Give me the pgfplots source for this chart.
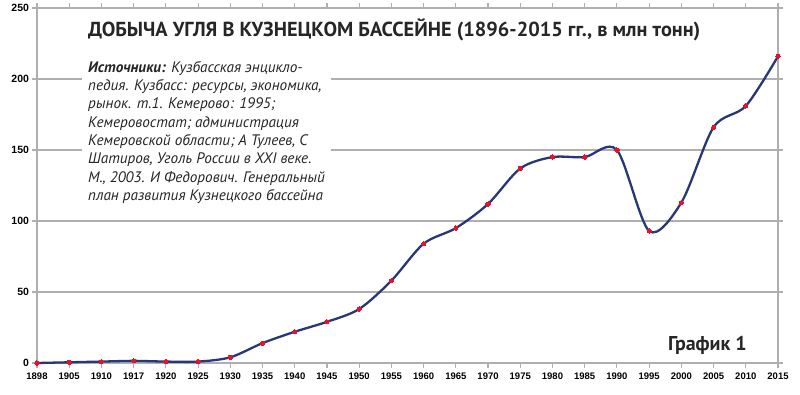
\documentclass[border=0pt]{standalone}
\usepackage{pgfplots}
\pgfplotsset{compat=1.18}
\usepackage{fontspec}
\setmainfont{PT Sans}
\newfontfamily\tickfont{Liberation Sans}
\definecolor{curveblue}{RGB}{40,55,120}
\definecolor{dotred}{RGB}{228,18,45}
\definecolor{gridc}{RGB}{175,175,175}
\begin{document}
\begin{tikzpicture}[x=1pt,y=1pt]
\path[use as bounding box] (0,0) rectangle (800,394);
\begin{axis}[
  at={(37pt,31pt)}, anchor=south west,
  scale only axis, width=741pt, height=355pt,
  xmin=0, xmax=23, ymin=0, ymax=250,
  xtick={0,...,23},
  xticklabels={1898,1905,1910,1917,1920,1925,1930,1935,1940,1945,1950,1955,1960,1965,1970,1975,1980,1985,1990,1995,2000,2005,2010,2015},
  ytick={0,50,...,250},
  ymajorgrids,
  grid style={gridc, line width=1.1pt},
  axis line style={gridc, line width=1.1pt},
  tick style={gridc, line width=1.1pt},
  tick align=outside,
  major tick length=4.5pt,
  /pgf/number format/assume math mode=true,
  xticklabel style={font=\tickfont\bfseries\fontsize{9.5}{10}\selectfont, yshift=-2pt},
  yticklabel style={font=\tickfont\bfseries\fontsize{10.5}{11}\selectfont},
  clip=false,
]
\addplot[color=curveblue, line width=2.3pt, smooth, tension=0.5,
  mark=*, mark size=2.1pt, mark options={draw=dotred, fill=dotred, line width=0pt}]
  table[x=i, y=v] {
i v
0 0
1 0.5
2 1
3 1.5
4 1
5 1
6 4
7 14
8 22
9 29
10 38
11 58
12 84
13 95
14 112
15 137
16 145
17 145
18 150
19 93
20 113
21 166
22 181
23 216
};
\end{axis}
\node[anchor=west, inner sep=0pt, font=\bfseries\fontsize{20.3}{22}\selectfont, text=black!85]
  at (88,364) {ДОБЫЧА УГЛЯ В КУЗНЕЦКОМ БАССЕЙНЕ (1896-2015 гг., в млн тонн)};
\node[anchor=north west, fill=white, inner xsep=6pt, inner ysep=4pt, align=left,
  font=\itshape\fontsize{15.2}{18.3}\selectfont, text=black!85]
  at (82,337) {\textbf{Источники:} Кузбасская энцикло-\\
педия. Кузбасс: ресурсы, экономика,\\
рынок. т.1. Кемерово: 1995;\\
Кемеровостат; администрация\\
Кемеровской области; А Тулеев, С\\
Шатиров, Уголь России в XXI веке.\\
М., 2003. И Федорович. Генеральный\\
план развития Кузнецкого бассейна};
\node[font=\bfseries\fontsize{20}{22}\selectfont, text=black!85] at (707.5,49) {График 1};
\end{tikzpicture}
\end{document}
